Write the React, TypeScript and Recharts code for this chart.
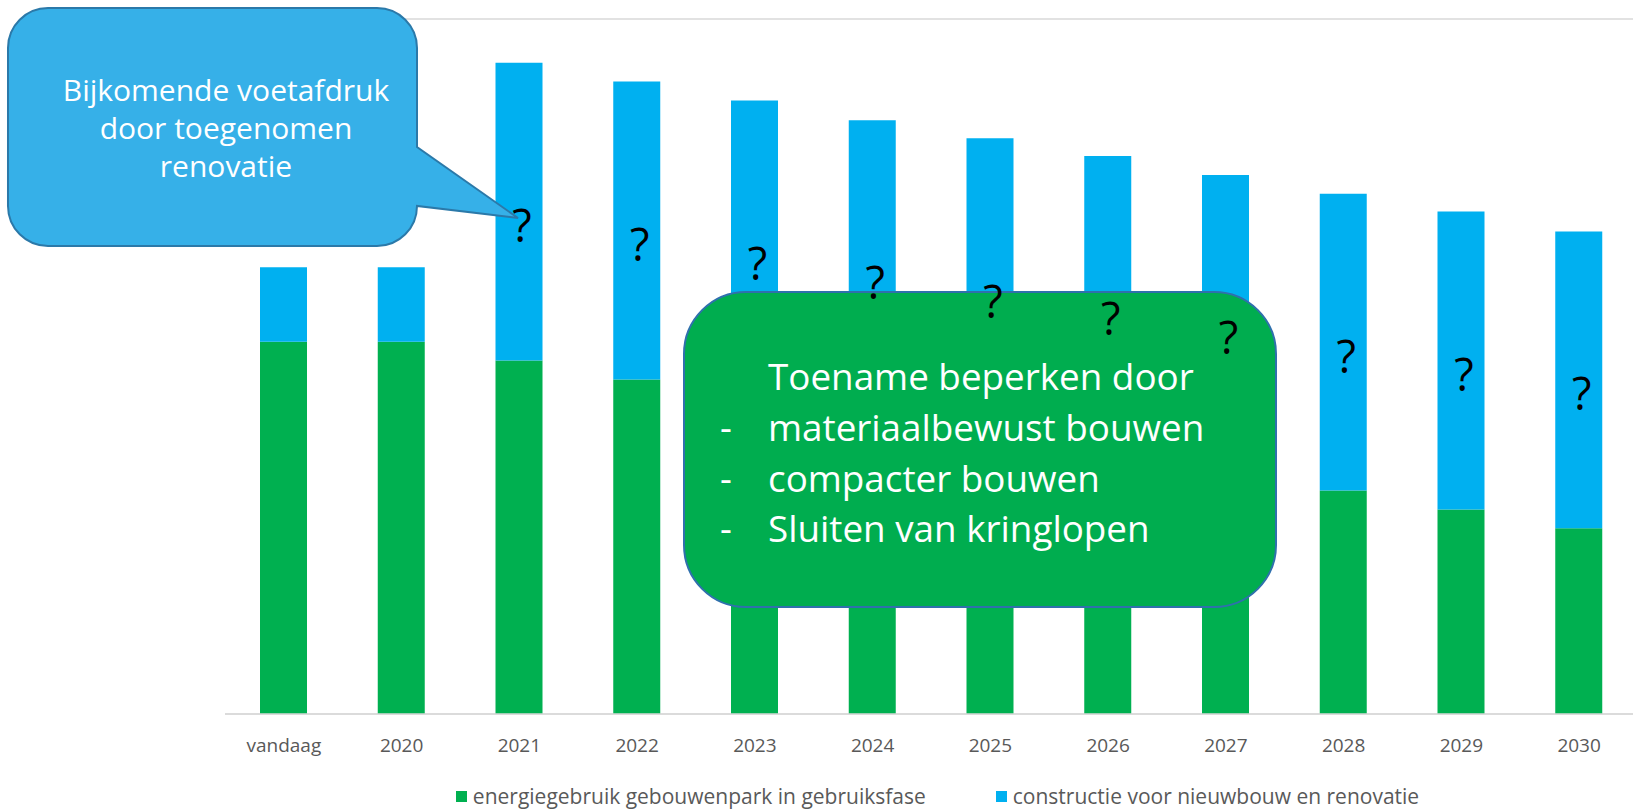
import React from "react";
import {
  ComposedChart,
  Bar,
  XAxis,
  YAxis,
  CartesianGrid,
  Legend,
  LabelList,
} from "recharts";

const years = [
  "vandaag", "2020", "2021", "2022", "2023", "2024",
  "2025", "2026", "2027", "2028", "2029", "2030",
];
// energiegebruik gebouwenpark in gebruiksfase
const gebruik = [37.5, 37.5, 35.6, 33.7, 31.8, 29.9, 28.0, 26.2, 24.3, 22.5, 20.6, 18.7];
// constructie voor nieuwbouw en renovatie
const constructie = [7.5, 7.5, 30.0, 30.0, 30.0, 29.9, 30.0, 30.0, 30.0, 29.9, 30.0, 29.9];
// onzekere bijdrage per jaar
const onbekend = ["", "", "?", "?", "?", "?", "?", "?", "?", "?", "?", "?"];
const yTicks = [0, 10, 20, 30, 40, 50, 60, 70];

const seriesNames = {
  gebruik: "energiegebruik gebouwenpark in gebruiksfase",
  constructie: "constructie voor nieuwbouw en renovatie",
};

const data = years.map((year, i) => ({
  year,
  gebruik: gebruik[i],
  constructie: constructie[i],
  q: onbekend[i],
}));

const FONT = "'Open Sans', sans-serif";
const GREEN = "#00B050";
const BLUE = "#00B0F0";
const GRID = "#d9d9d9";
const TEXT = "#595959";

const LegendBox = ({ hidden }: { hidden: boolean }) => (
  <div
    style={{
      display: "flex",
      justifyContent: "center",
      alignItems: "center",
      height: 24,
      lineHeight: "24px",
      paddingLeft: 12,
      fontFamily: FONT,
      fontSize: 21,
      color: TEXT,
      visibility: hidden ? "hidden" : "visible",
      whiteSpace: "nowrap",
    }}
  >
    <span style={{ width: 11, height: 11, background: GREEN, marginRight: 6 }} />
    <span>{seriesNames.gebruik}</span>
    <span style={{ width: 11, height: 11, background: BLUE, marginLeft: 70, marginRight: 6 }} />
    <span>{seriesNames.constructie}</span>
  </div>
);

const QuestionMark = (props: any) => {
  const vb = props.viewBox || {};
  const x = props.x ?? vb.x;
  const y = props.y ?? vb.y;
  const width = props.width ?? vb.width;
  const height = props.height ?? vb.height;
  if (!props.value || x == null) return null;
  return (
    <text
      x={x + width / 2 + 3}
      y={y + height / 2 + 13}
      textAnchor="middle"
      dominantBaseline="central"
      fontSize={45}
      fontFamily={FONT}
      fill="#000"
    >
      {props.value}
    </text>
  );
};

// overlay=true draws only the "?" marks, on top of the callouts
const Chart = ({ overlay }: { overlay: boolean }) => (
  <ComposedChart
    width={1640}
    height={811}
    data={data}
    margin={{ top: 19, right: 2, left: 225, bottom: 3 }}
    barSize={47}
  >
    {!overlay && <CartesianGrid vertical={false} stroke={GRID} strokeWidth={1.3} />}
    <XAxis
      dataKey="year"
      interval={0}
      height={70}
      tickLine={false}
      axisLine={overlay ? false : { stroke: GRID, strokeWidth: 1.3 }}
      tickMargin={19}
      tick={{ fill: overlay ? "transparent" : TEXT, fontSize: 19, fontFamily: FONT }}
    />
    <YAxis
      width={0}
      domain={[0, 70]}
      ticks={yTicks}
      tick={false}
      axisLine={false}
      tickLine={false}
    />
    <Legend verticalAlign="bottom" content={() => <LegendBox hidden={overlay} />} />
    <Bar
      dataKey="gebruik"
      name={seriesNames.gebruik}
      stackId="a"
      fill={overlay ? "transparent" : GREEN}
      isAnimationActive={false}
    />
    <Bar
      dataKey="constructie"
      name={seriesNames.constructie}
      stackId="a"
      fill={overlay ? "transparent" : BLUE}
      isAnimationActive={false}
    >
      {overlay && <LabelList dataKey="q" content={QuestionMark} />}
    </Bar>
  </ComposedChart>
);

const Callouts = () => (
  <svg
    width={1633}
    height={811}
    style={{ position: "absolute", left: 0, top: 0, pointerEvents: "none" }}
  >
    <path
      d="M 48 8 H 377 A 40 40 0 0 1 417 48 V 147 L 518 218 L 417 206 V 206 A 40 40 0 0 1 377 246 H 48 A 40 40 0 0 1 8 206 V 48 A 40 40 0 0 1 48 8 Z"
      fill="#36b0e8"
      stroke="#2b79a9"
      strokeWidth={2}
    />
    <g fill="#fff" fontFamily={FONT} fontSize={30} textAnchor="middle" dominantBaseline="central">
      <text x={226} y={89}>Bijkomende voetafdruk</text>
      <text x={226} y={127}>door toegenomen</text>
      <text x={226} y={165}>renovatie</text>
    </g>
    <rect
      x={684}
      y={292}
      width={592}
      height={315}
      rx={62}
      ry={62}
      fill="#00ad4f"
      stroke="#2f70ad"
      strokeWidth={2}
    />
    <g fill="#fff" fontFamily={FONT} fontSize={36.8} dominantBaseline="central">
      <text x={768} y={376}>Toename beperken door</text>
      <text x={726} y={427} textAnchor="middle">-</text>
      <text x={768} y={427}>materiaalbewust bouwen</text>
      <text x={726} y={478} textAnchor="middle">-</text>
      <text x={768} y={478}>compacter bouwen</text>
      <text x={726} y={528} textAnchor="middle">-</text>
      <text x={768} y={528}>Sluiten van kringlopen</text>
    </g>
  </svg>
);

export default function App() {
  return (
    <div
      style={{
        position: "fixed",
        left: 0,
        top: 0,
        width: 1633,
        height: 811,
        overflow: "hidden",
        background: "#fff",
      }}
    >
      <div style={{ position: "absolute", left: 0, top: 0 }}>
        <Chart overlay={false} />
      </div>
      <Callouts />
      <div style={{ position: "absolute", left: 0, top: 0, pointerEvents: "none" }}>
        <Chart overlay={true} />
      </div>
    </div>
  );
}
